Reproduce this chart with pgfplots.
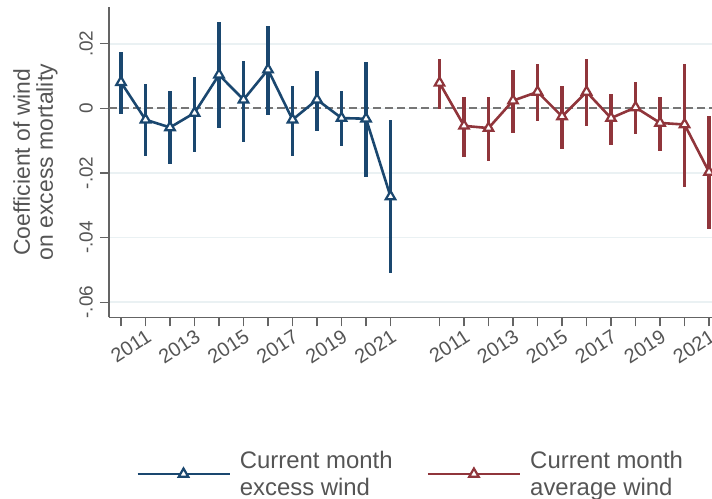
\documentclass[border=0pt]{standalone}
\usepackage{fontspec}
\setmainfont{Liberation Sans}
\usepackage{pgfplots}
\usepackage{pgfplotstable}
\pgfplotsset{compat=1.18}
\definecolor{sblue}{RGB}{26,71,111}
\definecolor{sred}{RGB}{144,53,59}
\definecolor{sgrid}{RGB}{234,241,243}
\definecolor{szero}{RGB}{118,118,118}
\definecolor{stext}{RGB}{85,85,85}
\definecolor{saxis}{RGB}{100,100,100}

\pgfplotstableread{
x y ep em
0 0.0081 0.0094 0.0098
1 -0.0035 0.0111 0.0112
2 -0.0059 0.0112 0.0112
3 -0.0014 0.0112 0.0121
4 0.0104 0.0163 0.0165
5 0.0027 0.0119 0.0130
6 0.0120 0.0136 0.0142
7 -0.0035 0.0104 0.0111
8 0.0027 0.0090 0.0098
9 -0.0030 0.0084 0.0087
10 -0.0032 0.0177 0.0179
11 -0.0273 0.0237 0.0236
}\bluedata

\pgfplotstableread{
x y ep em
13 0.0079 0.0073 0.0080
14 -0.0054 0.0089 0.0095
15 -0.0061 0.0096 0.0103
16 0.0024 0.0094 0.0100
17 0.0051 0.0087 0.0089
18 -0.0025 0.0095 0.0101
19 0.0051 0.0102 0.0107
20 -0.0030 0.0075 0.0082
21 0.0003 0.0078 0.0081
22 -0.0045 0.0080 0.0086
23 -0.0050 0.0189 0.0192
24 -0.0197 0.0172 0.0177
}\reddata

\begin{document}
\begin{tikzpicture}
\begin{axis}[
  at={(109bp,181.7bp)}, anchor=south west,
  scale only axis, width=603bp, height=310.3bp,
  xmin=-0.49, xmax=24.12, ymin=-0.0647, ymax=0.0314,
  scaled y ticks=false,
  axis x line*=bottom, axis y line*=left,
  axis line style={saxis, line width=1.2bp, -},
  xtick={0,1,...,11,13,14,...,24},
  xticklabels={{},2011,{},2013,{},2015,{},2017,{},2019,{},2021,{},2011,{},2013,{},2015,{},2017,{},2019,{},2021},
  ytick={-0.06,-0.04,-0.02,0,0.02},
  yticklabels={-.06,-.04,-.02,0,.02},
  tick align=outside, major tick length=9bp,
  tick style={saxis, line width=1.2bp},
  ymajorgrids, grid style={sgrid, line width=1.5bp},
  ticklabel style={text=stext, font=\fontsize{19}{19}\selectfont},
  xticklabel style={rotate=33, anchor=north east, inner sep=1.5bp, font=\fontsize{20}{20}\selectfont},
  yticklabel style={rotate=90, anchor=south, inner sep=2bp, yshift=5bp},
  ylabel={Coefficient of wind\\on excess mortality},
  ylabel style={at={(axis description cs:-0.122,0.5)}, anchor=center, align=center, text=stext, font=\fontsize{23}{23}\selectfont},
  clip=false,
  legend columns=2,
  legend image code/.code={\draw[#1, mark repeat=2, mark phase=2] plot coordinates {(0bp,0bp) (46bp,0bp) (92bp,0bp)};},
  legend style={at={(axis description cs:0.0448,-0.505)}, anchor=west, draw=none, fill=none, inner sep=0pt,
    font=\fontsize{24}{27}\selectfont, text=stext,
    nodes={inner sep=0pt},
    cells={align=left, anchor=west},
    /tikz/every odd column/.append style={column sep=9bp},
    /tikz/every even column/.append style={column sep=34bp}},
]
\addplot[szero, line width=1.8bp, dash pattern=on 8bp off 4bp, forget plot] coordinates {(-0.49,0) (24.12,0)};
\addplot[sblue, line width=2.6bp, mark=triangle*, mark size=5.5bp,
  mark options={fill=white, line width=2.2bp, solid},
  error bars/.cd, y dir=both, y explicit, error mark=none,
  error bar style={line width=3.2bp, sblue}]
  table[x=x, y=y, y error plus=ep, y error minus=em]{\bluedata};
\addlegendentry{Current month\\excess wind}
\addplot[sred, line width=2.6bp, mark=triangle*, mark size=5.5bp,
  mark options={fill=white, line width=2.2bp, solid},
  error bars/.cd, y dir=both, y explicit, error mark=none,
  error bar style={line width=3.2bp, sred}]
  table[x=x, y=y, y error plus=ep, y error minus=em]{\reddata};
\addlegendentry{Current month\\average wind}
\end{axis}
\pgfresetboundingbox
\useasboundingbox (0,0) rectangle (712bp,499bp);
\end{tikzpicture}
\end{document}
